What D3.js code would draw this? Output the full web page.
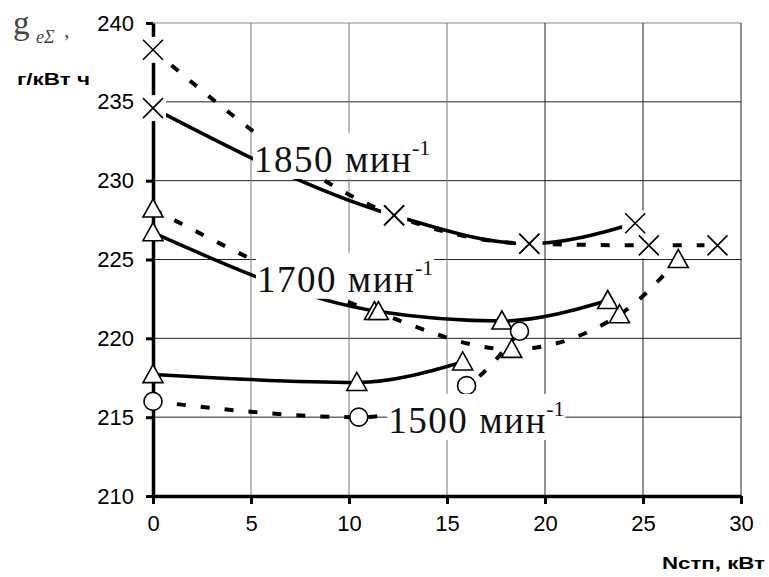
<!DOCTYPE html>
<html>
<head>
<meta charset="utf-8">
<script src="https://cdn.jsdelivr.net/npm/d3@7"></script>
<style>
  body { margin: 0; background: #fff; }
  svg { display: block; }
</style>
</head>
<body>
<svg id="chart"></svg>
<script>
// chart size
const width = 769, height = 577;

// data (x = Nстп, кВт; y = g, г/кВт ч)
const xTicks = [0, 5, 10, 15, 20, 25, 30];
const yTicks = [210, 215, 220, 225, 230, 235, 240];

const n1850SolidX = [0, 12.3, 19.2, 24.6];
const n1850SolidY = [234.6, 227.8, 226.0, 227.3];
const n1850DashX = [0, 12.3, 19.2, 25.3, 28.8];
const n1850DashY = [238.3, 227.8, 226.0, 225.9, 225.9];

const n1700SolidX = [0, 11.5, 17.8, 23.2];
const n1700SolidY = [226.7, 221.7, 221.1, 222.4];
const n1700DashX = [0, 11.3, 18.3, 23.8, 26.8];
const n1700DashY = [228.2, 221.7, 219.3, 221.5, 225.0];

const n1500SolidX = [0, 10.4, 15.8];
const n1500SolidY = [217.7, 217.2, 218.5];
const n1500DashX = [0, 10.5, 16.0, 18.7];
const n1500DashY = [216.0, 215.0, 217.0, 220.45];

const series = [
  { xs: n1850DashX, ys: n1850DashY, dash: true, marker: "x" },
  { xs: n1850SolidX, ys: n1850SolidY, dash: false, marker: "x" },
  { xs: n1700DashX, ys: n1700DashY, dash: true, marker: "tri" },
  { xs: n1700SolidX, ys: n1700SolidY, dash: false, marker: "tri" },
  { xs: n1500SolidX, ys: n1500SolidY, dash: false, marker: "tri" },
  { xs: n1500DashX, ys: n1500DashY, dash: true, marker: "circle" }
];

// label anchor = start of text on its baseline
const labels = [
  { text: "1850 мин", x: 5.05, y: 230.55 },
  { text: "1700 мин", x: 5.2, y: 222.95 },
  { text: "1500 мин", x: 11.9, y: 214.0 }
];

const svg = d3.select("#chart")
  .attr("width", width)
  .attr("height", height);

const x = d3.scaleLinear().domain([0, 30]).range([153, 741]);
const y = d3.scaleLinear().domain([210, 240]).range([496, 23]);

// grid
const grid = svg.append("g");
grid.selectAll("line.h")
  .data(yTicks.filter(d => d > 210))
  .join("line")
  .attr("x1", x(0)).attr("x2", x(30))
  .attr("y1", d => y(d)).attr("y2", d => y(d))
  .attr("stroke", d => d === 240 ? "#888" : "#222")
  .attr("stroke-width", 1);
grid.selectAll("line.v")
  .data(xTicks.filter(d => d > 0))
  .join("line")
  .attr("x1", d => x(d)).attr("x2", d => x(d))
  .attr("y1", y(240)).attr("y2", y(210))
  .attr("stroke", d => d <= 15 ? "#777" : "#222")
  .attr("stroke-width", 1);

// axes
const xAxis = svg.append("g")
  .attr("transform", `translate(0,${y(210)})`)
  .call(d3.axisBottom(x).tickValues(xTicks).tickSize(8).tickSizeOuter(0).tickPadding(11));
const yAxis = svg.append("g")
  .attr("transform", `translate(${x(0)},0)`)
  .call(d3.axisLeft(y).tickValues(yTicks).tickSize(7).tickSizeOuter(0).tickPadding(12));

[xAxis, yAxis].forEach(a => {
  a.select(".domain").attr("stroke", "#000").attr("stroke-width", 3.5);
  a.selectAll(".tick line").attr("stroke", "#000").attr("stroke-width", 3);
  a.selectAll(".tick text")
    .attr("fill", "#000")
    .style("font-family", "'Liberation Sans', Arial, sans-serif")
    .style("font-size", "22px");
});

// curves
const line = d3.line()
  .x(d => x(d[0]))
  .y(d => y(d[1]))
  .curve(d3.curveMonotoneX);

series.forEach(s => {
  const pts = s.xs.map((v, i) => [v, s.ys[i]]);
  svg.append("path")
    .attr("d", line(pts))
    .attr("fill", "none")
    .attr("stroke", "#000")
    .attr("stroke-width", s.dash ? 4 : 3.5)
    .attr("stroke-dasharray", s.dash ? "9,15" : null);
});

// white patches behind X markers
series.filter(s => s.marker === "x").forEach(s => {
  svg.append("g").selectAll("rect")
    .data(s.xs.map((v, i) => [v, s.ys[i]]))
    .join("rect")
    .attr("x", d => x(d[0]) - 13)
    .attr("y", d => y(d[1]) - 13)
    .attr("width", 26)
    .attr("height", 26)
    .attr("fill", "#fff");
});

// markers
series.forEach(s => {
  const g = svg.append("g");
  const pts = s.xs.map((v, i) => [v, s.ys[i]]);
  if (s.marker === "x") {
    g.selectAll("path")
      .data(pts)
      .join("path")
      .attr("d", d => {
        const cx = x(d[0]), cy = y(d[1]), r = 10;
        return `M${cx - r},${cy - r}L${cx + r},${cy + r}M${cx - r},${cy + r}L${cx + r},${cy - r}`;
      })
      .attr("stroke", "#000")
      .attr("stroke-width", 1.6)
      .attr("fill", "none");
  } else if (s.marker === "tri") {
    g.selectAll("path")
      .data(pts)
      .join("path")
      .attr("d", d => {
        const cx = x(d[0]), cy = y(d[1]);
        return `M${cx},${cy - 10}L${cx + 10},${cy + 8}L${cx - 10},${cy + 8}Z`;
      })
      .attr("stroke", "#000")
      .attr("stroke-width", 1.6)
      .attr("fill", "#fff");
  } else {
    g.selectAll("circle")
      .data(pts)
      .join("circle")
      .attr("cx", d => x(d[0]))
      .attr("cy", d => y(d[1]))
      .attr("r", 9)
      .attr("stroke", "#000")
      .attr("stroke-width", 1.6)
      .attr("fill", "#fff");
  }
});

// speed labels with white boxes
labels.forEach(l => {
  const lx = x(l.x), ly = y(l.y);
  const g = svg.append("g");
  g.append("rect")
    .attr("x", lx + 1)
    .attr("y", ly - 39)
    .attr("width", 178)
    .attr("height", 46)
    .attr("fill", "#fff");
  g.append("text")
    .attr("x", lx + 2)
    .attr("y", ly)
    .attr("textLength", 157)
    .attr("lengthAdjust", "spacing")
    .style("font-family", "'Liberation Serif', 'Times New Roman', serif")
    .style("font-size", "37px")
    .attr("fill", "#111")
    .text(l.text);
  g.append("text")
    .attr("x", lx + 160)
    .attr("y", ly - 17)
    .style("font-family", "'Liberation Serif', 'Times New Roman', serif")
    .style("font-size", "22px")
    .attr("fill", "#111")
    .text("-1");
});

// y axis title
const yt = svg.append("g");
yt.append("text")
  .attr("x", 13).attr("y", 34)
  .style("font-family", "'Liberation Serif', serif")
  .style("font-size", "33px")
  .attr("fill", "#444")
  .text("g");
yt.append("text")
  .attr("x", 36).attr("y", 43)
  .style("font-family", "'Liberation Serif', serif")
  .style("font-size", "18px")
  .style("font-style", "italic")
  .attr("fill", "#444")
  .text("eΣ");
yt.append("text")
  .attr("x", 64).attr("y", 37)
  .style("font-family", "'Liberation Serif', serif")
  .style("font-size", "22px")
  .attr("fill", "#444")
  .text(",");
svg.append("text")
  .attr("x", 17).attr("y", 85)
  .attr("textLength", 73)
  .attr("lengthAdjust", "spacingAndGlyphs")
  .style("font-family", "'Liberation Sans', Arial, sans-serif")
  .style("font-size", "17px")
  .style("font-weight", "bold")
  .text("г/кВт ч");

// x axis title
svg.append("text")
  .attr("x", 662).attr("y", 569)
  .attr("textLength", 103)
  .attr("lengthAdjust", "spacingAndGlyphs")
  .style("font-family", "'Liberation Sans', Arial, sans-serif")
  .style("font-size", "17px")
  .style("font-weight", "bold")
  .text("Nстп, кВт");
</script>
</body>
</html>
